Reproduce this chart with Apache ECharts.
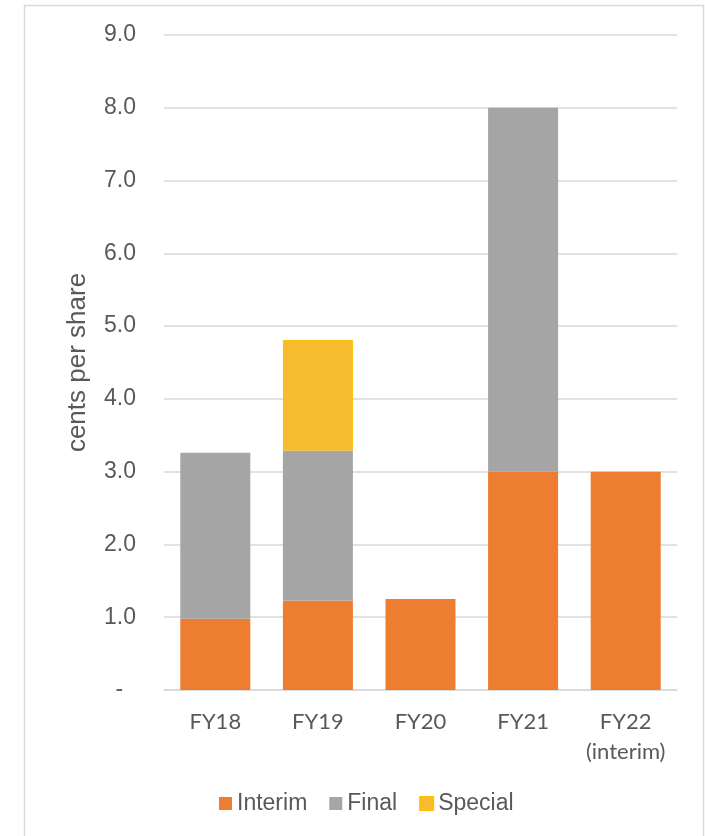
<!DOCTYPE html>
<html>
<head>
<meta charset="utf-8">
<title>Dividends per share</title>
<script src="https://cdn.jsdelivr.net/npm/echarts@6/dist/echarts.min.js"></script>
<style>
  html, body { margin: 0; padding: 0; background: #fff; }
  #chart { width: 705px; height: 836px; }
</style>
</head>
<body>
<div id="chart"></div>
<script>
// Dividend history, cents per share
const categories = ['FY18', 'FY19', 'FY20', 'FY21', 'FY22\n(interim)'];
const interim = [0.98, 1.23, 1.25, 3.0, 3.0];
const finalDiv = [2.28, 2.06, null, 5.0, null];
const special = [null, 1.52, null, null, null];
const yTicks = [0, 1, 2, 3, 4, 5, 6, 7, 8, 9];

const chart = echarts.init(document.getElementById('chart'), null, { renderer: 'canvas' });

const labelColor = '#595959';
const gridColor = '#d9d9d9';

chart.setOption({
  animation: false,
  backgroundColor: '#ffffff',
  graphic: [{
    type: 'rect',
    shape: { x: 24.5, y: 5.5, width: 679, height: 860 },
    style: { fill: 'none', stroke: gridColor, lineWidth: 1.5 },
    silent: true
  }],
  grid: { left: 164, right: 28, top: 35, bottom: 146 },
  legend: {
    data: ['Interim', 'Final', 'Special'],
    left: 219,
    top: 792,
    padding: 0,
    icon: 'rect',
    itemWidth: 13,
    itemHeight: 13,
    itemGap: 22,
    textStyle: { fontFamily: 'Liberation Sans', fontSize: 23, color: labelColor }
  },
  xAxis: {
    type: 'category',
    data: categories,
    axisTick: { show: false },
    axisLine: { show: true, lineStyle: { color: gridColor, width: 1.5 } },
    axisLabel: {
      interval: 0,
      margin: 17,
      fontFamily: 'Lato',
      fontSize: 22,
      lineHeight: 30,
      color: labelColor
    }
  },
  yAxis: {
    type: 'value',
    min: yTicks[0],
    max: yTicks[yTicks.length - 1],
    interval: 1,
    name: 'cents per share',
    nameLocation: 'middle',
    nameGap: 73,
    nameTextStyle: { fontFamily: 'Liberation Sans', fontSize: 26, color: labelColor },
    axisLine: { show: false },
    axisTick: { show: false },
    splitLine: { lineStyle: { color: gridColor, width: 1.5 } },
    axisLabel: {
      margin: 28,
      fontFamily: 'Liberation Sans',
      fontSize: 23,
      color: labelColor,
      formatter: v => (v === 0 ? '-  ' : v.toFixed(1))
    }
  },
  series: [
    {
      name: 'Interim', type: 'bar', stack: 'div', barWidth: 70,
      data: interim,
      itemStyle: { color: '#ED7D31' }
    },
    {
      name: 'Final', type: 'bar', stack: 'div', barWidth: 70,
      data: finalDiv,
      itemStyle: { color: '#A5A5A5' }
    },
    {
      name: 'Special', type: 'bar', stack: 'div', barWidth: 70,
      data: special,
      itemStyle: { color: '#F6BC2F', borderColor: '#FFC000', borderWidth: 1 }
    }
  ]
});
</script>
</body>
</html>
